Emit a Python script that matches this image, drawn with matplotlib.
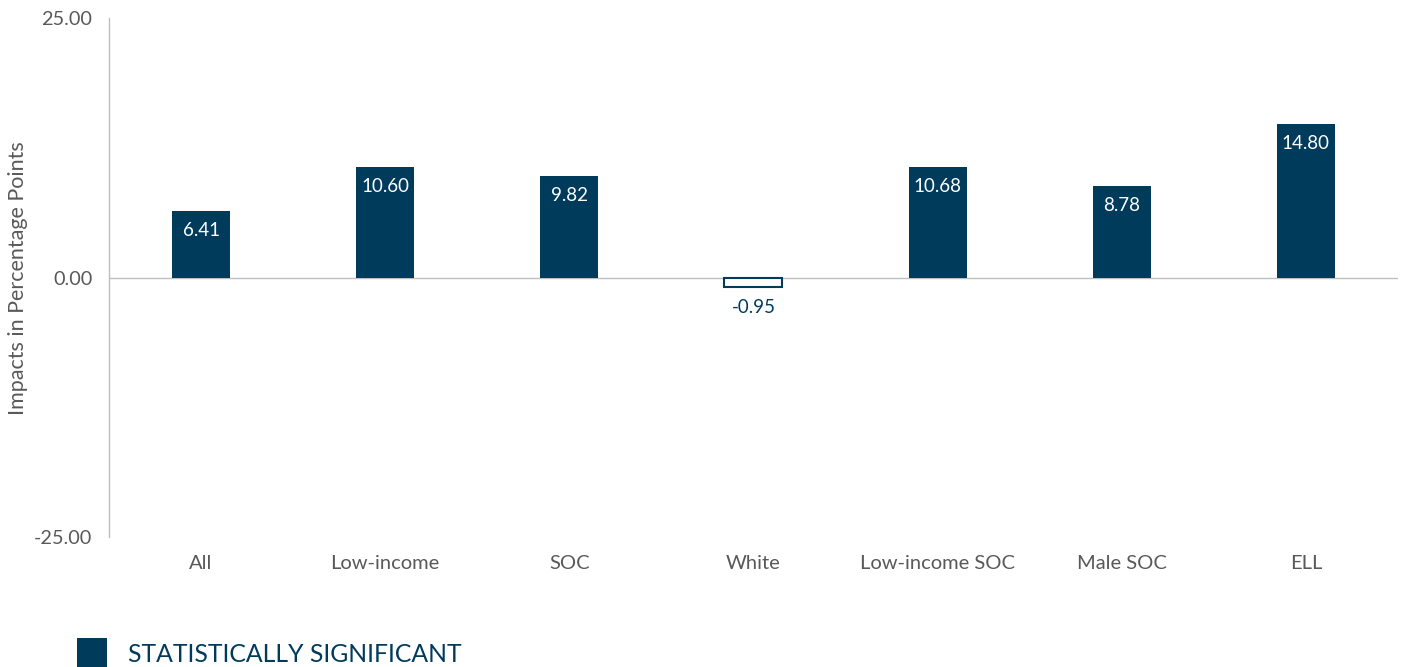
import matplotlib
matplotlib.use("Agg")
import matplotlib.pyplot as plt
from matplotlib.patches import Rectangle

plt.rcParams['font.family'] = ['Lato', 'DejaVu Sans']

categories = ["All", "Low-income", "SOC", "White", "Low-income SOC", "Male SOC", "ELL"]
values = [6.41, 10.60, 9.82, -0.95, 10.68, 8.78, 14.80]
significant = [True, True, True, False, True, True, True]
yticks = [-25, 0, 25]

navy = "#003B5C"
gray_text = "#595959"
axis_gray = "#BFBFBF"

fig = plt.figure(figsize=(14.03, 6.67), dpi=100)
ax = fig.add_axes([0.0777, 0.1949, 0.9187, 0.7781])

x = list(range(len(categories)))
for xi, v, sig in zip(x, values, significant):
    if sig:
        ax.bar(xi, v, width=0.315, color=navy, edgecolor=navy, linewidth=0, zorder=3)
    else:
        ax.bar(xi, v, width=0.315, color="white", edgecolor=navy, linewidth=1.5, zorder=3)

for xi, v, sig in zip(x, values, significant):
    if v >= 0:
        ax.annotate(f"{v:.2f}", (xi, v), xytext=(0, -14), textcoords="offset points",
                    ha="center", va="center", color="white" if sig else navy, fontsize=13.5, zorder=4)
    else:
        ax.annotate(f"{v:.2f}", (xi, v), xytext=(0, -14.5), textcoords="offset points",
                    ha="center", va="center", color=navy, fontsize=13.5, zorder=4)

ax.set_xlim(-0.5, len(categories) - 0.5)
ax.set_ylim(-25, 25)
ax.set_yticks(yticks)
ax.set_yticklabels([f"{t:.2f}" for t in yticks], color=gray_text, fontsize=14.3)
ax.set_xticks(x)
ax.set_xticklabels(categories, color=gray_text, fontsize=14.5)
ax.tick_params(axis='both', length=0)
ax.tick_params(axis='x', pad=13)
ax.tick_params(axis='y', pad=12)

for s in ["top", "right", "bottom"]:
    ax.spines[s].set_visible(False)
ax.spines["left"].set_color(axis_gray)
ax.spines["left"].set_linewidth(1)
ax.axhline(0, color=axis_gray, linewidth=1, zorder=2)

fig.text(18 / 1403, 1 - 278 / 667, "Impacts in Percentage Points", color=gray_text, fontsize=15.5,
         rotation=90, ha="center", va="center")

# legend
fig.patches.append(Rectangle((77 / 1403, 0), 30 / 1403, 29 / 667, transform=fig.transFigure,
                             facecolor=navy, edgecolor="none"))
fig.text(128 / 1403, 1 - 654 / 667, "STATISTICALLY SIGNIFICANT", color=navy, fontsize=17.8,
         ha="left", va="center")

fig.savefig("out.png", dpi=100)
